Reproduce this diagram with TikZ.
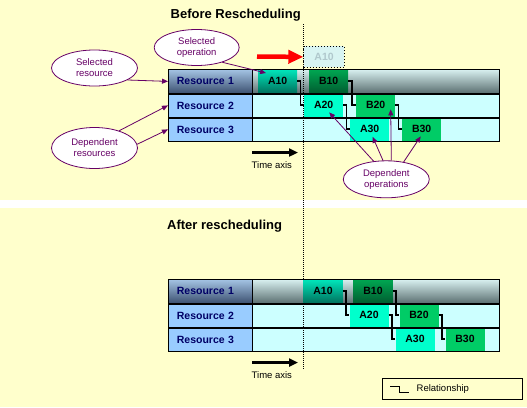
\documentclass[tikz,border=0pt]{standalone}
\usepackage{fontspec}
\setmainfont{Liberation Sans}
\usetikzlibrary{shapes.geometric,arrows.meta,calc}
\definecolor{paper}{HTML}{FFFFCC}
\definecolor{labelblue}{HTML}{99CCFF}
\definecolor{labeltop}{HTML}{A4C4E4}
\definecolor{labelbottom}{HTML}{3C5070}
\definecolor{lanecyan}{HTML}{CCFFFF}
\definecolor{lanetop}{HTML}{D8F0F0}
\definecolor{lanebottom}{HTML}{5A6E70}
\definecolor{opaqua}{HTML}{00FFCC}
\definecolor{opgreen}{HTML}{00CC66}
\definecolor{aqualight}{HTML}{00E8BC}
\definecolor{aquadark}{HTML}{00705C}
\definecolor{greenlight}{HTML}{00A852}
\definecolor{greendark}{HTML}{005C30}
\definecolor{ghostfill}{HTML}{D8F4F2}
\definecolor{ghosttext}{HTML}{B0C8CC}
\definecolor{callout}{HTML}{660066}
\definecolor{navy}{HTML}{000066}

\begin{document}
\begin{tikzpicture}[x=1pt, y=-1pt,
    lane/.style={draw, line width=0.8pt, anchor=north west, inner sep=0pt,
        minimum width=247pt, minimum height=24pt, fill=lanecyan},
    reslabel/.style={draw, line width=0.8pt, anchor=north west, inner xsep=8.5pt, inner ysep=0pt,
        text width=67pt, align=left, minimum height=24pt, fill=labelblue, text=navy,
        font=\fontsize{10.5}{12}\selectfont\bfseries},
    opbox/.style={anchor=north west, inner sep=0pt, minimum width=39pt, minimum height=24pt,
        font=\fontsize{10.5}{12}\selectfont\bfseries},
    aop/.style={opbox, fill=opaqua},
    bop/.style={opbox, fill=opgreen},
    aopfirst/.style={opbox, top color=aqualight, bottom color=aquadark},
    bopfirst/.style={opbox, top color=greenlight, bottom color=greendark},
    relline/.style={line width=1.5pt},
    bubble/.style={ellipse, draw=callout, line width=0.8pt, fill=white, text=callout, inner sep=0pt,
        minimum width=86pt, minimum height=36pt, align=center, font=\fontsize{9.5}{11}\selectfont},
    callarrow/.style={callout, line width=0.8pt, -{Triangle[length=6pt,width=5pt]}},
    timearrow/.style={line width=3pt, -{Triangle[length=9pt,width=8pt]}},
    caption/.style={anchor=west, inner sep=0pt, font=\fontsize{9.5}{11}\selectfont},
    heading/.style={anchor=base west, inner sep=0pt, font=\fontsize{13}{15}\selectfont\bfseries}]
\useasboundingbox (0,0) rectangle (527,407);
% Background
    \fill[paper] (0,0) rectangle (527,407);
    \fill[white] (0,200) rectangle (527,208);
% Titles
    \node[heading] (before) at (170.5,18.3) {Before Rescheduling};
    \node[heading] (after) at (167,229.3) {After rescheduling};
% Upper chart: resources and lanes
    \node[reslabel, top color=labeltop, bottom color=labelbottom] (tres1) at (168,69) {Resource 1};
    \node[reslabel] (tres2) at (168,93) {Resource 2};
    \node[reslabel] (tres3) at (168,117) {Resource 3};
    \node[lane, top color=lanetop, bottom color=lanebottom] (trow1) at (252,69) {};
    \node[lane] (trow2) at (252,93) {};
    \node[lane] (trow3) at (252,117) {};
% Lower chart: resources and lanes
\begin{scope}[shift={(0,210)}]
    \node[reslabel, top color=labeltop, bottom color=labelbottom] (bres1) at (168,69) {Resource 1};
    \node[reslabel] (bres2) at (168,93) {Resource 2};
    \node[reslabel] (bres3) at (168,117) {Resource 3};
    \node[lane, top color=lanetop, bottom color=lanebottom] (brow1) at (252,69) {};
    \node[lane] (brow2) at (252,93) {};
    \node[lane] (brow3) at (252,117) {};
\end{scope}
% Dotted time line
    \coordinate (nowtop) at (303.5,24);
    \coordinate (nowbot) at (303.5,369.5);
    \draw[line width=1pt, dash pattern=on 1pt off 1pt] (nowtop) -- (nowbot);
% Upper chart: operations
    \node[aopfirst] (ta10) at (258,69) {A10};
    \node[bopfirst] (tb10) at (309,69) {B10};
    \node[aop] (ta20) at (304,93) {A20};
    \node[bop] (tb20) at (356,93) {B20};
    \node[aop] (ta30) at (350,117) {A30};
    \node[bop] (tb30) at (402,117) {B30};
% Lower chart: operations
\begin{scope}[shift={(0,210)}]
    \node[aopfirst] (ba10) at (303.3,69) {A10};
    \node[bopfirst] (bb10) at (353.3,69) {B10};
    \node[aop] (ba20) at (349.3,93) {A20};
    \node[bop] (bb20) at (399.3,93) {B20};
    \node[aop] (ba30) at (395.3,117) {A30};
    \node[bop] (bb30) at (445.3,117) {B30};
\end{scope}
% Grid lines
    \draw[line width=0.8pt] (tres1.north west) rectangle (trow3.south east);
    \draw[line width=2pt] (tres1.south west) -- (trow1.south east);
    \draw[line width=2pt] (tres2.south west) -- (trow2.south east);
    \draw[line width=0.8pt] (bres1.north west) rectangle (brow3.south east);
    \draw[line width=2pt] (bres1.south west) -- (brow1.south east);
    \draw[line width=2pt] (bres2.south west) -- (brow2.south east);
% Relationships
    \draw[relline] (ta10.east) -| ($(ta10.east)!.5!(ta20.west)$) |- (ta20.west);
    \draw[relline] (tb10.east) -| ($(tb10.east)!.5!(tb20.west)$) |- (tb20.west);
    \draw[relline] (ta20.east) -| ($(ta20.east)!.5!(ta30.west)$) |- (ta30.west);
    \draw[relline] (tb20.east) -| ($(tb20.east)!.5!(tb30.west)$) |- (tb30.west);
    \draw[relline] (ba10.east) -| ($(ba10.east)!.5!(ba20.west)$) |- (ba20.west);
    \draw[relline] (bb10.east) -| ($(bb10.east)!.5!(bb20.west)$) |- (bb20.west);
    \draw[relline] (ba20.east) -| ($(ba20.east)!.5!(ba30.west)$) |- (ba30.west);
    \draw[relline] (bb20.east) -| ($(bb20.east)!.5!(bb30.west)$) |- (bb30.west);
% Moved operation
    \node[opbox, minimum width=40.7pt, minimum height=21pt, draw, line width=0.8pt,
        dash pattern=on 1pt off 2pt, fill=ghostfill, text=ghosttext] (ghost) at (303.3,46) {A10};
    \coordinate (redtail) at (257,56.5);
    \draw[red, line width=4.5pt, -{Triangle[length=15pt,width=13pt]}] (redtail) -- (ghost.west);
% Callouts
    \node[bubble] (selres) at (94.5,68) {Selected\\resource};
    \node[bubble, minimum width=85pt] (selop) at (196.7,47.5) {Selected\\operation};
    \node[bubble, minimum height=41pt] (depres) at (94.5,148) {Dependent\\resources};
    \node[bubble, minimum height=37pt] (depop) at (386.3,179.3) {Dependent\\operations};
    \draw[callarrow] (selres.-20) -- (tres1.west);
    \draw[callarrow] (selop.-30) -- ([xshift=8pt,yshift=-4pt]ta10.north west);
    \draw[callarrow] (depres.35) -- (tres2.west);
    \draw[callarrow] (depres.5) -- (tres3.west);
    \draw[callarrow] (depop.125) -- ([xshift=5.5pt,yshift=5pt]ta20.south);
    \draw[callarrow] (depop.100) -- ([xshift=3pt,yshift=4.5pt]ta30.south);
    \draw[callarrow] (depop.75) -- ([xshift=15pt,yshift=8pt]tb20.south);
    \draw[callarrow] (depop.45) -- ([xshift=-1pt,yshift=5pt]tb30.south);
% Time axes
    \coordinate (ttail) at (252,152.5);
    \coordinate (thead) at (298,152.5);
    \draw[timearrow] (ttail) -- (thead);
    \node[caption] (taxis) at (251.5,164.7) {Time axis};
\begin{scope}[shift={(0,210)}]
    \coordinate (btail) at (252,152.5);
    \coordinate (bhead) at (298,152.5);
    \draw[timearrow] (btail) -- (bhead);
    \node[caption] (baxis) at (251.5,164.7) {Time axis};
\end{scope}
% Legend
    \node[draw, line width=0.8pt, anchor=north west, minimum width=140pt, minimum height=21pt,
        inner sep=0pt] (legend) at (382.3,378.3) {};
    \coordinate (legA) at (390,386.7);
    \coordinate (legB) at (409,392.7);
    \draw[relline] (legA) -| ($(legA)!.5!(legB)$) |- (legB);
    \node[caption] (reltext) at (416.5,389) {Relationship};
\end{tikzpicture}
\end{document}
